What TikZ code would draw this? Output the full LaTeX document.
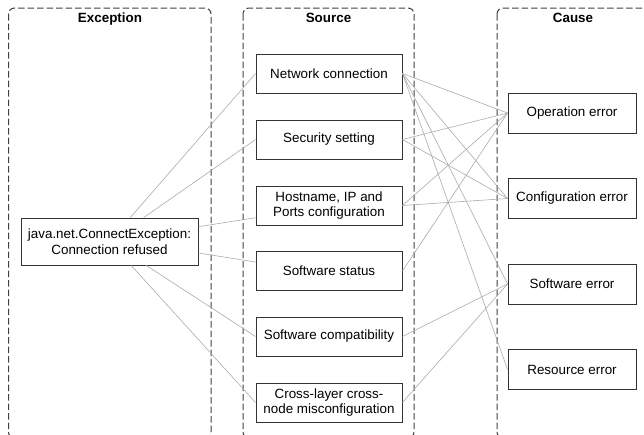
\documentclass[tikz,border=0pt]{standalone}
\usepackage{fontspec}
\setmainfont{Liberation Sans}
\begin{document}
\begin{tikzpicture}[x=1pt,y=-1pt,
  lane/.style={draw=black!75, dash pattern=on 6.5pt off 3pt, rounded corners=6pt, line width=1pt},
  lanetitle/.style={font=\bfseries\fontsize{13.4}{15}\selectfont, anchor=base, inner sep=0pt},
  item/.style={draw=black!80, line width=0.9pt, fill=white, align=center,
    font=\fontsize{13.4}{15.5}\selectfont, inner sep=0pt},
  srcbox/.style={item, minimum width=146pt, minimum height=39pt},
  causebox/.style={item, minimum width=128pt, minimum height=40pt},
  link/.style={draw=black!33, line width=0.6pt}]
\useasboundingbox (0,0) rectangle (644,434);

% swimlanes
\draw[lane] (8.5,8) rectangle (211,438);
\draw[lane] (243,8) rectangle (414,438);
\draw[lane] (497,8) rectangle (650,438);
\node[lanetitle] (lexc) at (110,22.5) {Exception};
\node[lanetitle] (lsrc) at (328.5,22.5) {Source};
\node[lanetitle] (lcause) at (573,22.5) {Cause};

% exception
\node[item, minimum width=177pt, minimum height=47pt] (exc) at (109.5,241.5)
  {java.net.ConnectException:\\Connection refused};

% sources
\node[srcbox] (net)   at (329,73.5)  {Network connection};
\node[srcbox] (sec)   at (329,139.5) {Security setting};
\node[srcbox] (host)  at (329,205.5) {Hostname, IP and\\Ports configuration};
\node[srcbox] (stat)  at (329,271)   {Software status};
\node[srcbox] (comp)  at (329,336.5) {Software compatibility};
\node[srcbox] (cross) at (329,402.5) {Cross-layer cross-\\node misconfiguration};

% causes
\node[causebox] (op)   at (572,113)   {Operation error};
\node[causebox] (conf) at (572,198.5) {Configuration error};
\node[causebox] (swe)  at (572,284)   {Software error};
\node[causebox] (res)  at (572,369.5) {Resource error};

% exception to sources
\draw[link] (exc) -- (net.west);
\draw[link] (exc) -- (sec.west);
\draw[link] ([yshift=14.8pt]exc.east) -- ([yshift=-12.2pt]host.west);
\draw[link] ([yshift=-11.5pt]exc.east) -- ([yshift=9pt]stat.west);
\draw[link] (exc) -- (comp.west);
\draw[link] (exc) -- (cross.west);

% sources to causes
\draw[link] (net.east) -- (op.west);
\draw[link] (net.east) -- (conf.west);
\draw[link] (net.east) -- (swe.west);
\draw[link] (net.east) -- (res.west);
\draw[link] (sec.east) -- (op.west);
\draw[link] (sec.east) -- (conf.west);
\draw[link] (host.east) -- (op.west);
\draw[link] (host.east) -- (conf.west);
\draw[link] (stat.east) -- (op.west);
\draw[link] (comp.east) -- (swe.west);
\draw[link] (cross.east) -- (swe.west);
\end{tikzpicture}
\end{document}
